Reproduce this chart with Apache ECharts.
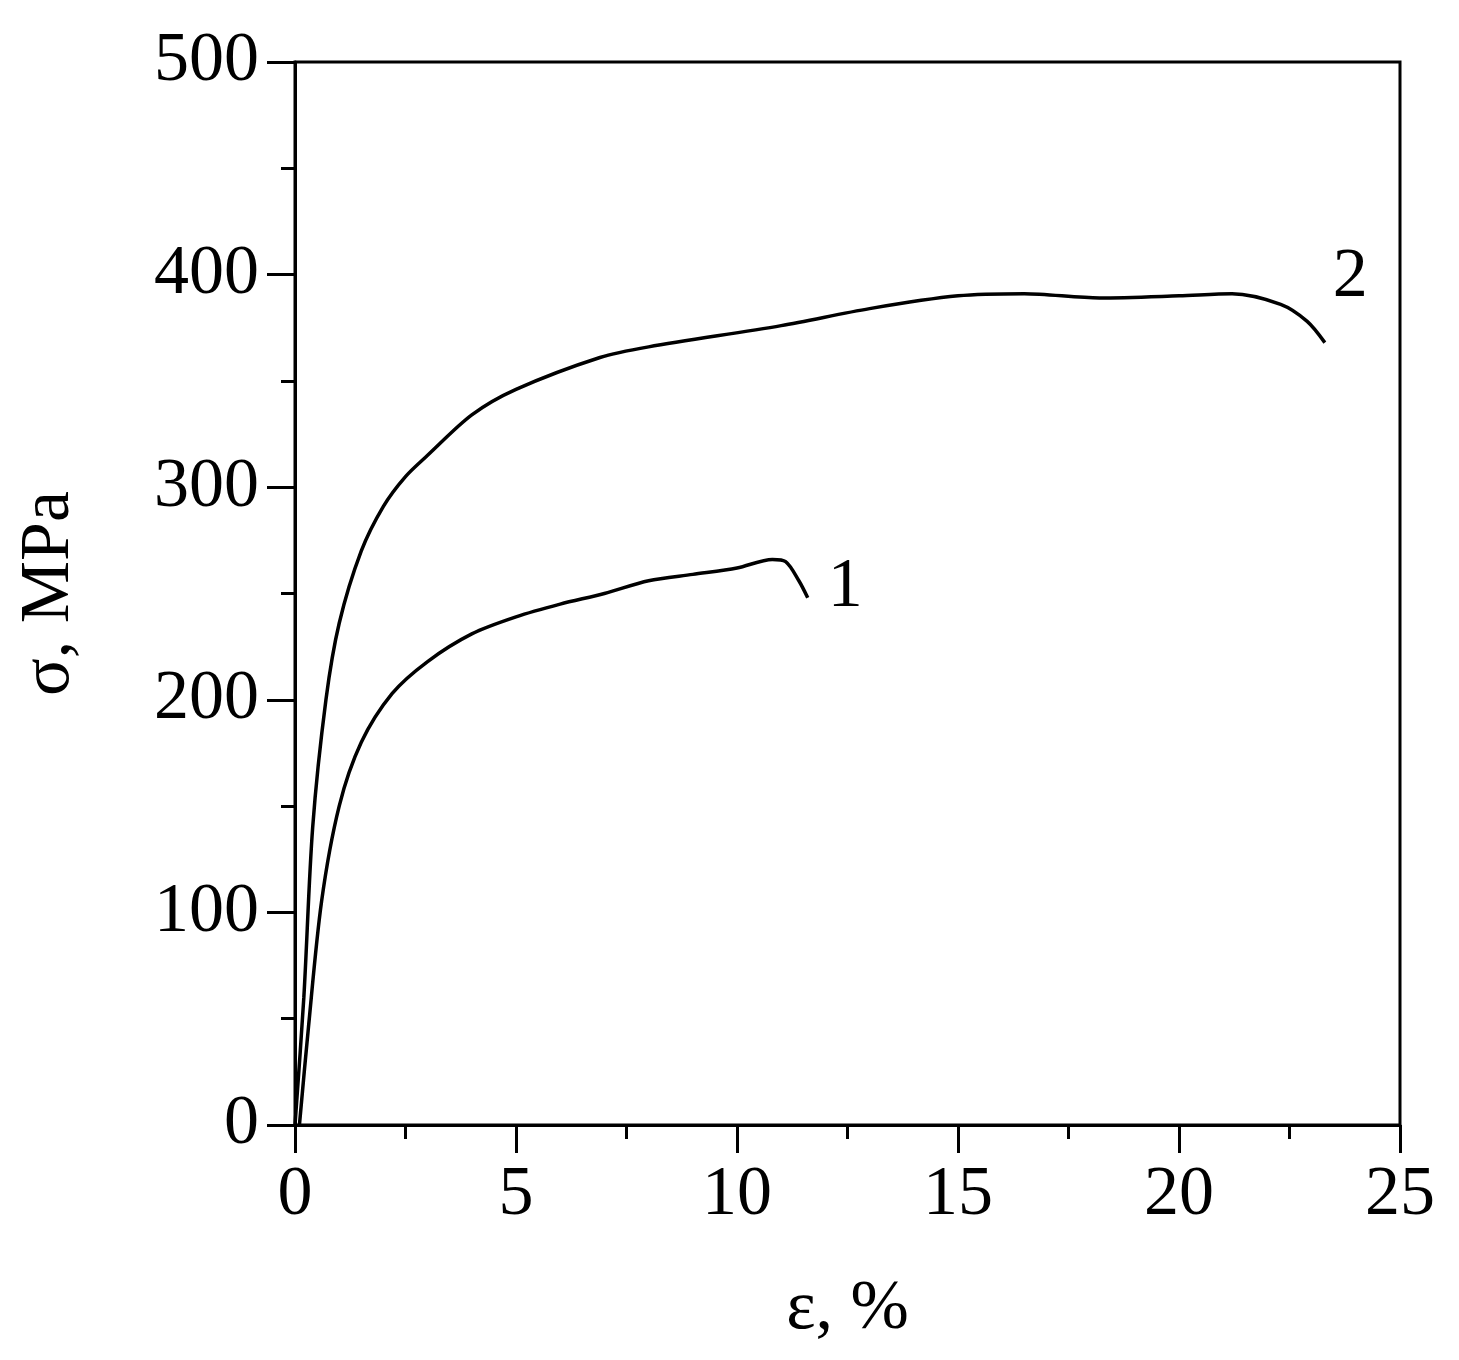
<!doctype html>
<html>
<head>
<meta charset="UTF-8">
<title>σ-ε</title>
<script src="https://cdn.jsdelivr.net/npm/echarts@6/dist/echarts.min.js"></script>
<style>html,body{margin:0;background:#fff}</style>
</head>
<body>
<div id="main" style="width:1459px;height:1360px;"></div>
<script>
// curve 1 (strain %, stress MPa)
var curve1 = [[0.1,0],[0.3,45],[0.6,105],[1.0,150],[1.5,180],[2.2,203],[3,218],[4,231],[5,239],[6,245],[7,250],[8,256],[9,259],[10,262],[10.8,266],[11.1,265],[11.4,256],[11.6,248]];
// curve 2
var curve2 = [[0,0],[0.2,60],[0.4,140],[0.7,200],[1.0,236],[1.5,270],[2.0,291],[2.5,305],[3,315],[4.0,334],[5.0,346],[6.9,361],[8.0,366],[11,376],[13,384],[15,390],[16.5,391],[18.2,389],[20,390],[21.2,391],[22.3,386],[22.9,378],[23.3,368]];
var curveNames = ['1', '2'];

var myChart = echarts.init(document.getElementById('main'));
var font = 'Liberation Serif';
var axisCommon = {
    axisLine: {show: true, lineStyle: {color: '#000', width: 3}},
    axisTick: {show: true, inside: false, length: 28, lineStyle: {color: '#000', width: 3}},
    minorTick: {show: true, splitNumber: 2, length: 14, lineStyle: {color: '#000', width: 3}},
    splitLine: {show: false},
    axisLabel: {color: '#000', fontFamily: font, fontSize: 70, margin: 36},
    nameTextStyle: {color: '#000', fontFamily: font, fontSize: 70},
    nameLocation: 'middle'
};
var option = {
    animation: false,
    grid: {left: 295, right: 59, top: 62, bottom: 235, show: true, borderColor: '#000', borderWidth: 3},
    xAxis: Object.assign({type: 'value', min: 0, max: 25, interval: 5, name: 'ε, %', nameGap: 150}, axisCommon),
    yAxis: Object.assign({type: 'value', min: 0, max: 500, interval: 100, name: 'σ, MPa', nameGap: 210}, axisCommon),
    series: [curve1, curve2].map(function (d, i) {
        return {
            type: 'line', data: d, smooth: 0.3, showSymbol: false,
            lineStyle: {color: '#000', width: 3.5},
            endLabel: {show: true, formatter: curveNames[i], fontFamily: font, fontSize: 70, color: '#000',
                offset: i === 0 ? [12, -10] : [0, -65]}
        };
    })
};
myChart.setOption(option);
</script>
</body>
</html>
